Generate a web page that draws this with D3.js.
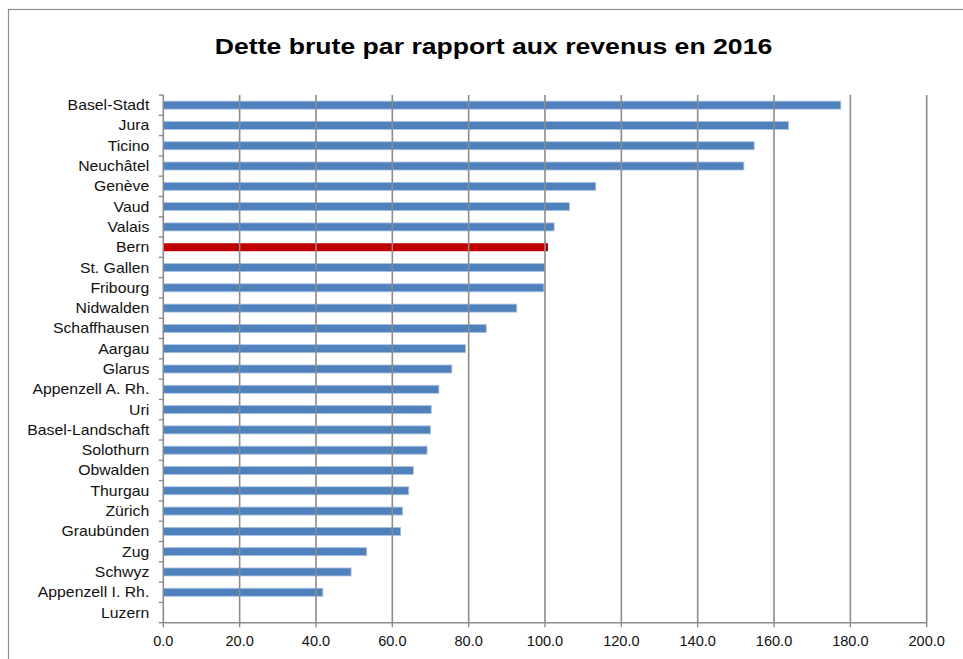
<!DOCTYPE html>
<html><head><meta charset="utf-8">
<script src="https://cdn.jsdelivr.net/npm/d3@7"></script>
<style>body{margin:0;background:#fff}svg{display:block}text{font-family:"Liberation Sans",Arial,sans-serif}</style>
</head><body>
<svg id="c" width="963" height="659"></svg>
<script>
const title = "Dette brute par rapport aux revenus en 2016";
const cantons = ["Basel-Stadt","Jura","Ticino","Neuchâtel","Genève","Vaud","Valais","Bern","St. Gallen","Fribourg","Nidwalden","Schaffhausen","Aargau","Glarus","Appenzell A. Rh.","Uri","Basel-Landschaft","Solothurn","Obwalden","Thurgau","Zürich","Graubünden","Zug","Schwyz","Appenzell I. Rh.","Luzern"];
const values = [177.5,163.8,154.8,152.1,113.3,106.4,102.4,100.8,99.9,99.7,92.6,84.6,79.2,75.6,72.2,70.2,70.0,69.1,65.5,64.3,62.7,62.2,53.3,49.2,41.8,null];
const highlight = ["Bern"];
const xTicks = [0,20,40,60,80,100,120,140,160,180,200];

const svg = d3.select("#c");
const L = 163.3, R = 926.7, T = 95, B = 622.7;
const x = d3.scaleLinear().domain([0,200]).range([L,R]);
const yb = d3.scaleBand().domain(cantons).range([T,B]);
const grey = "#8c8c8c";

// frame
svg.append("rect").attr("x",8.5).attr("y",9.5).attr("width",1000).attr("height",1000)
  .attr("fill","none").attr("stroke","#8c8c8c").attr("stroke-width",1.2);

// title
svg.append("text").attr("transform",`translate(493.5,54) scale(1.21,1)`)
  .attr("text-anchor","middle").attr("font-size",22).attr("font-weight","bold").attr("fill","#000").text(title);

// bars
const data = cantons.map((c,i)=>({c, v: values[i]})).filter(d=>d.v!=null);
svg.append("g").selectAll("rect").data(data).join("rect")
  .attr("x",x(0)).attr("y",d=>yb(d.c)+yb.bandwidth()/2-4).attr("height",8)
  .attr("width",d=>x(d.v)-x(0))
  .attr("fill",d=>highlight.includes(d.c)?"#c00000":"#4f81bd")
  .attr("stroke",d=>highlight.includes(d.c)?"none":"#a9c3e3").attr("stroke-width",0.8);

// gridlines
svg.append("g").selectAll("line").data(xTicks.slice(1)).join("line")
  .attr("x1",d=>x(d)).attr("x2",d=>x(d)).attr("y1",T).attr("y2",B)
  .attr("stroke",grey).attr("stroke-width",1.6);

// y axis line and ticks
svg.append("line").attr("x1",L).attr("x2",L).attr("y1",T).attr("y2",B).attr("stroke",grey).attr("stroke-width",1.6);
const bounds = cantons.map(c=>yb(c)).concat([B]);
svg.append("g").selectAll("line").data(bounds).join("line")
  .attr("x1",L-4.5).attr("x2",L).attr("y1",d=>d).attr("y2",d=>d).attr("stroke",grey).attr("stroke-width",1.4);

// x axis line and ticks
svg.append("line").attr("x1",L).attr("x2",R).attr("y1",B).attr("y2",B).attr("stroke",grey).attr("stroke-width",1.6);
svg.append("g").selectAll("line").data(xTicks).join("line")
  .attr("x1",d=>x(d)).attr("x2",d=>x(d)).attr("y1",B).attr("y2",B+4.5).attr("stroke",grey).attr("stroke-width",1.4);

// y labels
svg.append("g").selectAll("text").data(cantons).join("text")
  .attr("transform",d=>`translate(${L-14},${yb(d)+yb.bandwidth()/2+5}) scale(1.13,1)`)
  .attr("text-anchor","end").attr("font-size",14).attr("fill","#111").text(d=>d);

// x labels
svg.append("g").selectAll("text").data(xTicks).join("text")
  .attr("transform",d=>`translate(${x(d)},646) scale(1.04,1)`)
  .attr("text-anchor","middle").attr("font-size",14).attr("fill","#111").text(d=>d3.format(".1f")(d));
</script>
</body></html>
